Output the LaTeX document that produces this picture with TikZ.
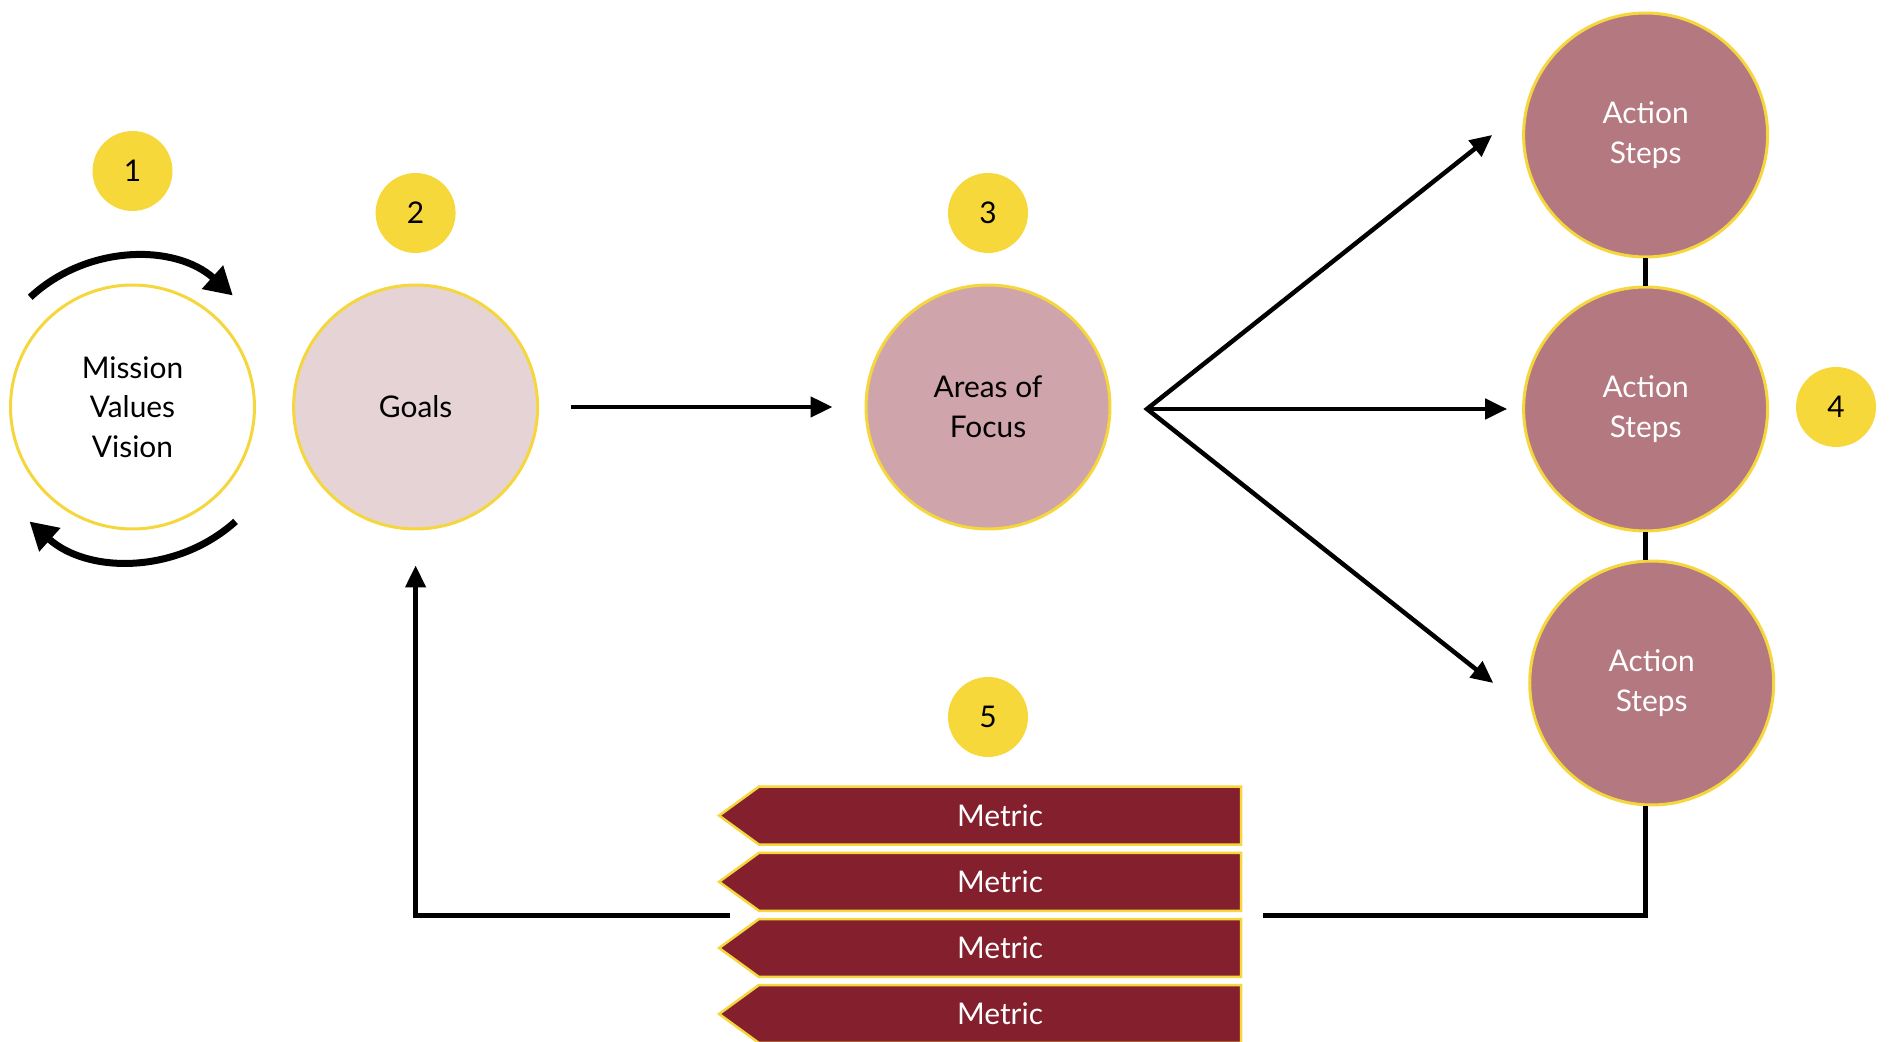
\documentclass[tikz,border=0pt]{standalone}
\usepackage{fontspec}
\setmainfont{Lato}
\usetikzlibrary{arrows.meta,shapes.symbols}
\definecolor{badgeyellow}{HTML}{F7D83A}
\definecolor{rim}{HTML}{F5D63D}
\definecolor{goalpink}{HTML}{E5D3D6}
\definecolor{focuspink}{HTML}{CFA4AA}
\definecolor{actionrose}{HTML}{B37880}
\definecolor{metricred}{HTML}{84202E}
\begin{document}
\begin{tikzpicture}[x=0.02cm,y=0.02cm,
  every node/.style={font=\fontsize{17}{22.5}\selectfont},
  stage/.style={circle,draw=rim,line width=0.06cm,minimum size=4.88cm,inner sep=0pt,align=center},
  badge/.style={circle,fill=badgeyellow,minimum size=1.6cm,inner sep=0pt},
  metric/.style={signal,signal to=west,signal pointer angle=72,fill=metricred,draw=rim,line width=0.05cm,
    minimum width=10.44cm,minimum height=1.16cm,inner sep=0pt,text=white},
  flow/.style={line width=0.09cm,>={Triangle[length=0.44cm,width=0.4cm]}},
  spin/.style={line width=0.14cm,-{Triangle[length=0.55cm,width=0.6cm]}}]
\useasboundingbox (0,0) rectangle (1889,1041);
% Draw stages
\node[stage,fill=white] (mission) at (132.5,634) {Mission\\Values\\Vision};
\node[stage,fill=goalpink] (goals) at (415.6,634) {Goals};
\node[stage,fill=focuspink] (areas) at (988,634) {Areas of\\Focus};
\node[stage,fill=actionrose,text=white] (act1) at (1645.6,906) {Action\\Steps};
\node[stage,fill=actionrose,text=white] (act2) at (1645.6,632) {Action\\Steps};
\node[stage,fill=actionrose,text=white] (act3) at (1651.7,358) {Action\\Steps};
% Draw numbers
\node[badge] (b1) at (132.5,870) {1};
\node[badge] (b2) at (415.6,828) {2};
\node[badge] (b3) at (988,828) {3};
\node[badge] (b4) at (1836,634) {4};
\node[badge] (b5) at (988,324) {5};
% Draw metrics
\node[metric] (m1) at (1000,225.4) {Metric};
\node[metric] (m2) at (1000,159.2) {Metric};
\node[metric] (m3) at (1000,93) {Metric};
\node[metric] (m4) at (1000,27) {Metric};
% Cycle round the mission
\draw[spin] ([shift={(133:150)}]mission.center) arc[start angle=133,end angle=48,radius=150];
\draw[spin] ([shift={(-48:154)}]mission.center) arc[start angle=-48,end angle=-132,radius=154];
% Draw flow
\coordinate (fan) at (1147,632);
\coordinate (mright) at (1262.5,125.4);
\coordinate (mleft) at (730,125.4);
\draw[flow,->,shorten <=0.64cm,shorten >=0.64cm] (goals) -- (areas);
\draw[flow,<->] ([xshift=-0.6cm]act1.west) -- (fan) -- ([xshift=-0.7cm]act3.west);
\draw[flow,->] (fan) -- ([xshift=-0.3cm]act2.west);
\draw[flow] (act1) -- (act2);
\draw[flow] (act2.south) -- (act2.south |- act3.north);
\draw[flow] (act3.south -| act2.south) |- (mright);
\draw[flow,->] (mleft) -| ([yshift=-0.7cm]goals.south);
\end{tikzpicture}
\end{document}
